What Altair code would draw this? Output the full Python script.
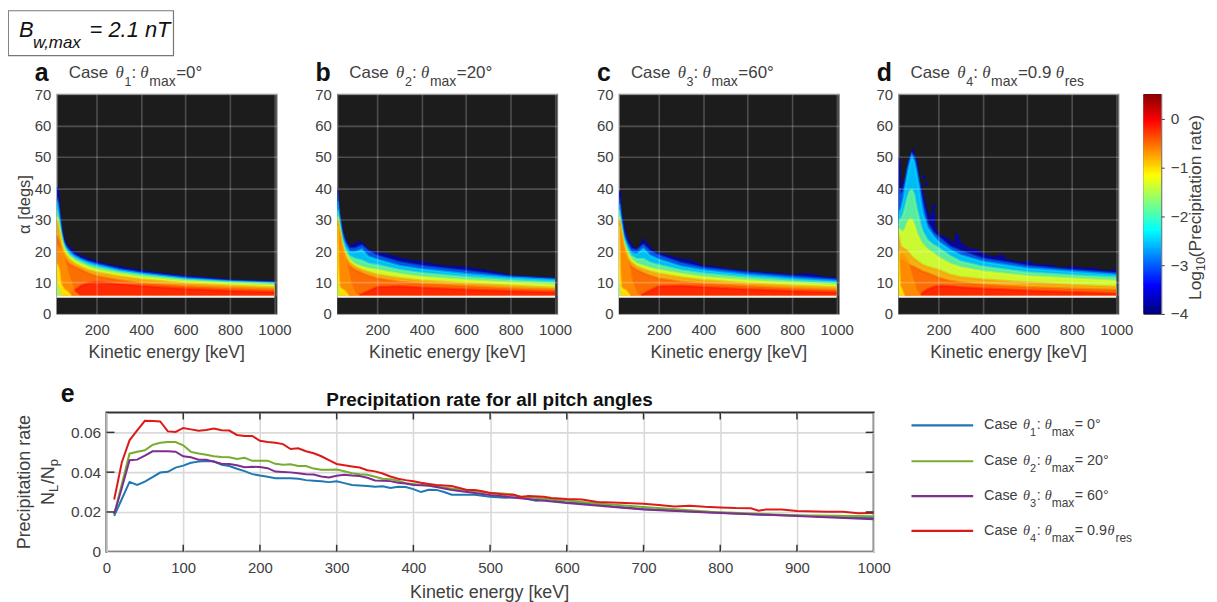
import altair as alt
import pandas as pd

# ---------- colour map ----------
JET = ["#00007f","#0000ff","#007fff","#00ffff","#7fff7f","#ffff00","#ff7f00","#ff0000","#7f0000"]
JET_SCALE = alt.Scale(domain=[-4, 0.5], range=JET, interpolate="rgb")
LEVELS = {"blue": -3.7, "azure": -2.95, "cyan": -2.4, "green": -1.75, "yellow": -1.2,
          "orange": -0.72, "orangered": -0.42, "red": -0.12}

# ---------- heat-map contours (alpha of each level's upper edge) ----------
K = [20,25,30,40,50,60,75,100,130,160,200,300,400,600,800,1000]

A_TOP_E = [20,28,32,38,45,53,65,80,98,120,150,200,250,300,350,400,500,600,700,770,800,900,1000]
A_TOP   = [40,40,33,30,26,23.5,22,21,20,18.8,17.8,16.7,15.7,15,14.4,13.8,12.8,12,11.5,11,10.8,10.5,10.3]
A_AZURE = [37,36,33,27,23.3,21.8,20.3,18.8,17.6,16.8,16,14.3,13.2,11.6,10.6,10]
A_CYAN  = [36,34,31,26,22.7,21.2,19.7,18.3,17.2,16.4,15.5,13.9,12.8,11.2,10.3,9.8]
A_GREEN = [33,31,29,25,22,20.5,19,17.6,16.6,15.7,14.9,13.4,12.4,10.9,10.1,9.6]
A_YELLOW= [31,30,28,24,21.2,19.8,18.4,17,15.9,15,14.1,12.8,11.8,10.4,9.7,9.1]
A_ORANGE= [30,28.5,26.5,22.5,20,18.8,17.4,16,14.9,14,13.2,11.9,11,9.7,9,8.4]
A_ORED  = [25,24,23,20.5,18.5,17.3,16,15,14,13,12,10.7,9.8,8.8,8.2,7.7]
A_RED   = [5.8,5.8,5.8,5.8,5.8,5.8,5.8,7.5,9,9.8,10.2,9.5,8.9,8,7.4,7]
A_W_O_E = [20,30,40,50,70,100,120]; A_W_O = [22,21,20.5,19,13,7,5.8]
A_W_Y_E = [20,30,38,50,70,85];      A_W_Y = [16,14,9.5,8,6.8,5.8]
A_W_G_E = [20,25,30,40];            A_W_G = [10,8.5,7.5,5.8]

B_TOP_E = [20,28,35,50,75,90,120,140,165,200,250,300,350,400,450,500,600,700,800,900,1000]
B_TOP   = [40,32,30,24.5,21.5,22,23,22,20.2,19.5,18.8,17.7,17,16.6,15.8,15.2,14.8,13.7,12.2,11.7,11.4]
B_AZURE = [38,34,31,26.5,24,22.5,20.8,20.8,21.8,20,18.5,16.5,15.3,13.7,11.9,11.1]
B_CYAN  = [36,32,30,25.5,23,21.3,19.7,19.7,20.5,18.2,17.3,15.3,14.2,12.7,11.5,10.8]
B_GREEN = [33,30,28,24,21.5,20,18.4,17.5,17,16,15.5,14,13,11.8,10.8,10]
B_YELLOW= [31,29,27,23,20.5,19,17.3,15.8,15,14.5,14,12.7,11.8,10.8,10,9.3]
B_ORANGE= [30,28,26,22,19.5,18,16.4,15,14,13.3,12.5,11.4,10.6,9.7,9,8.3]
B_ORED  = [27,26,24,20.8,18,16.8,15.2,14,13,12.2,11.3,10.2,9.6,8.8,8.1,7.6]
B_RED   = [5.8,5.8,5.8,5.8,5.8,5.8,5.8,5.8,6.3,7.3,8.6,8.8,8.4,7.8,7.3,6.9]
B_W_O_E = [20,30,40,60,80,100,120]; B_W_O = [30,26,22,17,10,6.5,5.8]
B_W_Y_E = [20,24,28,35,50,70];      B_W_Y = [28,15,9,8,7.5,5.8]
B_W_G_E = [20,22,25];               B_W_G = [10,9,5.8]

C_TOP_E = [20,25,28,35,45,55,65,77,90,107,120,130,140,152,175,200,280,340,400,450,503,600,700,800,880,940,1000]
C_TOP   = [39,39,33,31,27,24.7,23,22,21,20.3,22.5,23.7,22.5,22,20,19.3,17.7,17,15.2,15,14.2,13.5,13,12.4,12.7,11.8,11.4]
C_AZURE = [37,34,31,26.5,24,22.5,20.7,20.2,22,20,18.6,16.2,14.7,13.1,12,11]
C_CYAN  = [35,32,29.5,25,23,21.3,19.5,19,20.8,18.6,17.3,15.1,13.9,12.4,11.3,10.4]
C_GREEN = [33,30,28,24,22,20.3,18.5,17.5,17.5,16.3,15.5,13.9,12.9,11.6,10.6,9.8]
C_YELLOW= [31,29,27,23,20.8,19.2,17.5,16,15.3,14.6,14,12.8,11.8,10.7,9.9,9.2]
C_ORANGE= [30,28,26,22,19.7,18,16.5,15.1,14.2,13.5,12.8,11.6,10.7,9.7,9,8.4]
C_ORED  = [27,26,24,20.8,18,16.8,15.2,14,13,12.2,11.3,10.2,9.6,8.8,8.1,7.6]
C_RED   = [5.8,5.8,5.8,5.8,5.8,5.8,5.8,5.8,6.3,7.5,8.8,9,8.6,7.9,7.3,6.9]
C_W_O_E = [20,30,40,60,80,100,120]; C_W_O = [30,26,22,17,10,6.5,5.8]
C_W_Y_E = [20,24,28,35,50,70];      C_W_Y = [28,15,9,8,7.5,5.8]
C_W_G_E = [20,22,25];               C_W_G = [10,9,5.8]

KD = [20,25,30,40,50,60,70,80,90,100,110,120,130,150,175,200,250,300,400,600,800,1000]
D_TOP_E = [20,23,27,30,35,40,50,60,70,80,85,90,100,110,115,120,130,140,150,160,170,175,185,200,225,250,270,280,300,350,370,400,450,480,500,550,600,650,700,750,800,850,900,950,1000]
D_TOP   = [30,50,47,36,38,42,41,47,50,51,52.5,50.5,49,44,39,41.5,38,35,32,31.5,30,34.5,27,25,24.5,23.5,22,25,22.5,20,20.5,19,18,18.5,17.5,16.5,16.5,15.5,15.5,14.5,15,14.5,14.5,13.5,14]
D_AZURE = [33,40,38,39,42,46,49,51,50,47,43,39,35,29,26,24.5,21.5,20,17.6,15.3,14,13]
D_CYAN  = [30,33,33,36,40,44,47.5,50,48.5,45,41,36,32,27.5,25,23,20.5,18.7,16.6,14.5,13.4,12.4]
D_GREEN = [28,30,30,31.5,34,37,39,39.5,38,34,31,28,26,23.5,22,21,18.5,16.7,15,13.2,12.3,11.6]
D_YELLOW= [27,27,26.5,26,27,29,30,30,28.5,26,24.5,23,22,20.5,19.3,18,16,14.8,13.5,12,11.3,10.6]
D_ORANGE= [25,23,21.5,21,20.5,20,19,18.2,17.5,17,16.5,16,15.5,15,14.5,14,12.5,11.7,11,10,9.2,8.7]
D_ORED  = [19,18,17,17,16.5,16,15.5,15.2,15,14.5,14.2,13.8,13.5,13,12.3,11.5,10.5,10,9.3,8.5,8,7.6]
D_RED   = [5.8,5.8,5.8,5.8,5.8,5.8,5.8,5.8,5.8,5.8,5.8,6.2,6.8,7.8,8.5,9,8.8,8.5,8.1,7.5,7,6.5]
D_W_O_E = [20,30,40,60,80,100,120]; D_W_O = [19,19,19,17,12,7.5,5.8]
D_W_Y_E = [20,23,26,35,45];         D_W_Y = [20,14,9,7.5,5.8]
D_SPECK_E = [140,130,175,175,280,350,480,600]
D_SPECK_A = [41,43,34,31,24.5,20,18,16]

# ---------- line data ----------
E1 = [10,20,30,40,50,60,70,80,90,100,110,120,130,140,150,160,170,180,190,200,210,220,230,240,250,260,270,280,290,300,310,320,330,340,350,360,370,380,390,400,410,420,430,440,450,460,480,500,520,540,560,580,600,640,660,700,750,800,850,900,950,1000]
L1 = [.018,.0265,.0351,.0336,.0352,.0375,.0398,.0402,.0423,.0433,.0447,.0453,.0456,.0455,.0437,.0431,.0417,.0405,.039,.0383,.0377,.037,.037,.037,.0367,.036,.0357,.0354,.035,.0354,.0345,.0336,.0333,.033,.0327,.0329,.032,.0327,.0325,.0315,.03,.0312,.0311,.03,.0287,.0287,.0287,.0277,.0272,.0273,.0256,.0262,.0247,.024,.0228,.0215,.0205,.0196,.0187,.0182,.0175,.017]
E2 = [10,20,30,40,50,60,70,80,90,100,110,120,130,140,150,160,170,180,190,200,210,220,230,240,250,260,270,280,290,300,310,320,330,340,350,360,370,380,390,400,450,470,500,520,540,600,640,700,800,900,1000]
L2 = [.0187,.034,.0493,.0503,.051,.0537,.0548,.0551,.0551,.0535,.0502,.0494,.0488,.048,.0476,.0475,.0466,.0472,.0457,.0457,.0458,.0442,.0437,.044,.0431,.0431,.0418,.0412,.0412,.0413,.0405,.0395,.039,.0387,.0377,.0367,.0365,.0357,.0345,.034,.0318,.0308,.0296,.0292,.0278,.0258,.0243,.0225,.0198,.0183,.0178]
E3 = [10,20,30,40,50,60,70,80,90,100,110,120,130,140,150,160,170,180,190,200,210,220,230,240,250,260,270,280,290,300,310,320,330,340,350,360,370,380,390,400,420,450,500,600,700,800,900,1000]
L3 = [.019,.032,.046,.0463,.0483,.0505,.0505,.0505,.0503,.048,.0475,.0463,.0463,.0452,.0442,.0441,.0435,.0425,.0427,.0426,.042,.0403,.0401,.0399,.0395,.039,.0388,.0378,.0373,.0382,.0387,.0383,.0381,.0372,.0358,.0357,.0355,.0347,.0343,.0336,.0333,.031,.0285,.0245,.0212,.0195,.018,.0163]
E4 = [10,20,30,40,50,60,70,80,90,100,110,120,130,140,150,160,170,180,190,200,210,220,230,240,250,260,270,280,290,300,310,320,330,340,350,360,370,380,390,400,410,420,430,450,470,480,490,500,510,520,530,540,550,570,580,600,620,640,660,700,720,740,760,780,800,820,840,850,860,880,900,940,960,980,1000]
L4 = [.0263,.045,.056,.061,.0658,.0657,.0655,.0605,.0602,.0622,.0615,.0608,.0612,.0619,.0611,.0609,.0587,.0582,.0582,.0558,.0552,.0548,.0541,.0516,.052,.0505,.0495,.048,.046,.0441,.0435,.0429,.0423,.041,.0404,.0393,.0378,.0367,.036,.0354,.0347,.0341,.0335,.033,.0311,.0311,.0304,.0295,.0292,.0286,.0288,.0275,.028,.0277,.027,.0265,.0263,.025,.0247,.0241,.0235,.0228,.0231,.0226,.0223,.022,.0219,.0206,.0213,.0212,.0205,.0201,.0201,.0193,.0195]
LINE_COLORS = ["#1f77b4", "#77ac30", "#7e2f8e", "#dd1a1a"]

# ---------- axis values / colours ----------
HX = [200,400,600,800,1000]
HY = [0,10,20,30,40,50,60,70]
EX = [0,100,200,300,400,500,600,700,800,900,1000]
EY = [0,0.02,0.04,0.06]
CB_VALUES = [round(-4 + i*0.05, 2) for i in range(90)]
CB_TICKS = [-4,-3,-2,-1,0]
TXT = "#404040"
SANS = "Liberation Sans"
SERIF = "Liberation Serif"
EMPTY = alt.Data(values=[{}])
NOVIEW = alt.ViewBackground(stroke=None)

HX_SCALE = alt.Scale(domain=[20, 1010], nice=False, zero=False)
HY_SCALE = alt.Scale(domain=[0, 70], nice=False)
EX_SCALE = alt.Scale(domain=[0, 1000], nice=False)
EY_SCALE = alt.Scale(domain=[0, 0.07], nice=False)


def txt(s, x, y, size, font=SANS, color=TXT, **kw):
    return alt.Chart(EMPTY).mark_text(text=s, font=font, fontSize=size, color=color, align=kw.pop("align", "left"),
                                      baseline="alphabetic", **kw).encode(x=alt.value(x), y=alt.value(y))


def spacer(w, h=5):
    return alt.Chart(EMPTY).mark_point(opacity=0).encode(
        x=alt.value(2), y=alt.value(2), size=alt.value(1)).properties(width=w, height=h, view=NOVIEW)


HX_AXIS = alt.Axis(values=HX, grid=True, gridColor="#ffffff", gridOpacity=0.22, gridWidth=1.6, tickSize=0,
                   zindex=1, domain=False, labelFontSize=15, labelColor=TXT, labelFont=SANS, labelPadding=9,
                   labelOverlap=False, labelFlush=False, format="d", title=None)
HY_AXIS = alt.Axis(values=HY, grid=True, gridColor="#ffffff", gridOpacity=0.22, gridWidth=1.6, tickSize=0,
                   zindex=1, domain=False, labelFontSize=15, labelColor=TXT, labelFont=SANS, labelPadding=6,
                   labelOverlap=False, labelFlush=False, format="d", title=None)


def heat_band(level, es, tops):
    df = pd.DataFrame({"E": es, "top": tops, "level": LEVELS[level], "base": 5.8})
    return alt.Chart(df).mark_area(interpolate="linear", clip=True,
                                   line=alt.OverlayMarkDef(strokeWidth=2.5, opacity=0.45, clip=True)).encode(
        x=alt.X("E:Q", scale=HX_SCALE, axis=HX_AXIS),
        y=alt.Y("top:Q", scale=HY_SCALE, axis=HY_AXIS),
        y2="base:Q",
        color=alt.Color("level:Q", scale=JET_SCALE, legend=None),
    )


def title_pieces(letter, sub, tail, res=False):
    p = [txt(letter, -22, -13, 25, fontWeight="bold", color="#111111"),
         txt("Case", 12, -16, 17), txt("θ", 59, -16, 17, font=SERIF, fontStyle="italic"),
         txt(sub, 68, -8, 12.5), txt(":", 75, -16, 17),
         txt("θ", 84, -16, 17, font=SERIF, fontStyle="italic"), txt("max", 93, -8, 14),
         txt(tail, 120, -16, 17)]
    if res:
        p += [txt("θ", 158, -16, 17, font=SERIF, fontStyle="italic"), txt("res", 167, -8, 14)]
    return p


def heat_panel(k, top_e, top, az, cy, gr, ye, ora, ore, red, wedges, letter, sub, tail, w=221, res=False, extra=None, ytitle=False):
    layers = [heat_band("blue", top_e, top), heat_band("azure", k, az), heat_band("cyan", k, cy),
              heat_band("green", k, gr), heat_band("yellow", k, ye), heat_band("orange", k, ora),
              heat_band("orangered", k, ore), heat_band("red", k, red)]
    layers += [heat_band(lv, e, a) for lv, e, a in wedges]
    if extra is not None:
        layers.append(extra)
    mask = pd.DataFrame({"E": [15, 1020], "top": [5.6, 5.6], "base": [0, 0]})
    layers.append(alt.Chart(mask).mark_area(color="#1c1c1c", clip=True).encode(
        x=alt.X("E:Q", scale=HX_SCALE, axis=HX_AXIS), y=alt.Y("top:Q", scale=HY_SCALE, axis=HY_AXIS), y2="base:Q"))
    rule = pd.DataFrame({"E": [20], "b": [1000], "top": [5.5]})
    layers.append(alt.Chart(rule).mark_rule(color="#fff4ec", strokeWidth=2).encode(
        x=alt.X("E:Q", scale=HX_SCALE, axis=HX_AXIS), x2="b:Q", y=alt.Y("top:Q", scale=HY_SCALE, axis=HY_AXIS)))
    layers.append(txt("Kinetic energy [keV]", w/2, 265, 17.7, align="center"))
    layers += title_pieces(letter, sub, tail, res)
    if ytitle:
        layers.append(txt("α [degs]", -27, 111, 16.5, angle=270, align="center"))
    return alt.layer(*layers).properties(
        width=w, height=221,
        view=alt.ViewBackground(fill="#1c1c1c", stroke="#7a7a7a", strokeWidth=1.2))


spk = pd.DataFrame({"E": D_SPECK_E, "E2": [e+10 for e in D_SPECK_E], "top": D_SPECK_A, "top2": [a+1 for a in D_SPECK_A], "level": -3.6})
speck = alt.Chart(spk).mark_rect().encode(x=alt.X("E:Q", scale=HX_SCALE, axis=HX_AXIS), x2="E2:Q",
                                          y=alt.Y("top:Q", scale=HY_SCALE, axis=HY_AXIS), y2="top2:Q",
                                          color=alt.Color("level:Q", scale=JET_SCALE, legend=None))

pa = heat_panel(K, A_TOP_E, A_TOP, A_AZURE, A_CYAN, A_GREEN, A_YELLOW, A_ORANGE, A_ORED, A_RED,
                [("orange", A_W_O_E, A_W_O), ("yellow", A_W_Y_E, A_W_Y), ("green", A_W_G_E, A_W_G)],
                "a", "1", "=0°", ytitle=True)
pb = heat_panel(K, B_TOP_E, B_TOP, B_AZURE, B_CYAN, B_GREEN, B_YELLOW, B_ORANGE, B_ORED, B_RED,
                [("orange", B_W_O_E, B_W_O), ("yellow", B_W_Y_E, B_W_Y), ("green", B_W_G_E, B_W_G)],
                "b", "2", "=20°")
pc = heat_panel(K, C_TOP_E, C_TOP, C_AZURE, C_CYAN, C_GREEN, C_YELLOW, C_ORANGE, C_ORED, C_RED,
                [("orange", C_W_O_E, C_W_O), ("yellow", C_W_Y_E, C_W_Y), ("green", C_W_G_E, C_W_G)],
                "c", "3", "=60°")
pd_ = heat_panel(KD, D_TOP_E, D_TOP, D_AZURE, D_CYAN, D_GREEN, D_YELLOW, D_ORANGE, D_ORED, D_RED,
                 [("orange", D_W_O_E, D_W_O), ("yellow", D_W_Y_E, D_W_Y)],
                 "d", "4", "=0.9", res=True, extra=speck)

# ---------- colour bar ----------
cb_df = pd.DataFrame({"v": CB_VALUES, "v2": [v + 0.08 for v in CB_VALUES]})
colorbar = alt.layer(
    alt.Chart(cb_df).mark_rect(clip=True).encode(
        y=alt.Y("v:Q", scale=alt.Scale(domain=[-4, 0.5], nice=False), title=None,
                axis=alt.Axis(orient="right", values=CB_TICKS, tickSize=3, tickColor="#404040", domain=False, labelFontSize=15.5,
                              labelColor=TXT, labelFont=SANS, labelPadding=6, labelOverlap=False, labelFlush=False, format="d", grid=False)),
        y2="v2:Q",
        color=alt.Color("v:Q", scale=JET_SCALE, legend=None)),
    txt("Log", 58, 221-14, 17.5, angle=270),
    txt("10", 62, 221-43, 13, angle=270),
    txt("(Precipitation rate)", 58, 221-57, 17.5, angle=270),
).properties(width=18, height=221, view=alt.ViewBackground(stroke="#555555"))

row1 = alt.hconcat(spacer(24), pa, spacer(11), pb, spacer(12), pc, spacer(10), pd_, colorbar).properties(bounds="flush", spacing=25)

# ---------- header box ----------
header = alt.layer(
    txt("B", 11, 27, 22, fontStyle="italic", color="#111111"),
    txt("w,max", 25, 37.5, 17, fontStyle="italic", color="#111111"),
    txt("= 2.1 nT", 82, 27, 22, fontStyle="italic", color="#111111"),
).properties(width=166, height=45, view=alt.ViewBackground(fill="#ffffff", stroke="#777777", strokeWidth=1.2))

# ---------- line panel ----------
XE_AXIS = alt.Axis(values=EX, grid=True, gridColor="#d9d9d9", gridWidth=1.6, tickSize=0, domain=False, labelFontSize=15,
                   labelColor=TXT, labelFont=SANS, labelPadding=9, labelOverlap=False, labelFlush=False, format="d", title=None)
YE_AXIS = alt.Axis(values=EY, grid=True, gridColor="#d9d9d9", gridWidth=1.6, tickSize=0, domain=False, labelFontSize=15.5,
                   labelColor=TXT, labelFont=SANS, labelPadding=6, labelOverlap=False, labelFlush=False, title=None,
                   labelExpr="datum.value==0?'0':format(datum.value,'.2f')")
XE = alt.X("E:Q", scale=EX_SCALE, axis=XE_AXIS)
YE = alt.Y("r:Q", scale=EY_SCALE, axis=YE_AXIS)


def line(es, vs, color):
    return alt.Chart(pd.DataFrame({"E": es, "r": vs})).mark_line(color=color, strokeWidth=2).encode(x=XE, y=YE)


tx = pd.DataFrame({"E": EX[1:-1]})
ty = pd.DataFrame({"r": EY[1:]})
TICK = dict(color="#333333", strokeWidth=1.5)
e_layers = [line(E1, L1, LINE_COLORS[0]), line(E2, L2, LINE_COLORS[1]), line(E3, L3, LINE_COLORS[2]), line(E4, L4, LINE_COLORS[3]),
            alt.Chart(tx).mark_rule(**TICK).encode(x=XE, y=alt.value(133), y2=alt.value(140)),
            alt.Chart(tx).mark_rule(**TICK).encode(x=XE, y=alt.value(0), y2=alt.value(7)),
            alt.Chart(ty).mark_rule(**TICK).encode(y=YE, x=alt.value(0), x2=alt.value(8)),
            alt.Chart(ty).mark_rule(**TICK).encode(y=YE, x=alt.value(763), x2=alt.value(771)),
            txt("e", -46, -11, 25, fontWeight="bold", color="#111111"),
            txt("Precipitation rate for all pitch angles", 385, -6, 19, fontWeight="bold", color="#111111", align="center"),
            txt("Kinetic energy [keV]", 385, 186, 18, align="center"),
            txt("Precipitation rate", -77, 70, 18, angle=270, align="center"),
            txt("N", -53, 93, 18, angle=270), txt("L", -49, 80, 13, angle=270),
            txt("/N", -53, 72, 18, angle=270), txt("p", -49, 54, 13, angle=270)]
pe = alt.layer(*e_layers).properties(width=771, height=140, view=alt.ViewBackground(fill="#ffffff", stroke="#333333", strokeWidth=2))

# ---------- legend ----------
LEG_Y = [13, 49, 84, 119]
LEG_SUB = ["1", "2", "3", "4"]
LEG_TAIL = ["= 0°", "= 20°", "= 60°", "= 0.9"]
leg_layers = []
for i, ly in enumerate(LEG_Y):
    leg_layers += [
        alt.Chart(EMPTY).mark_rule(color=LINE_COLORS[i], strokeWidth=2.2).encode(x=alt.value(13), x2=alt.value(75), y=alt.value(ly)),
        txt("Case", 86, ly + 4, 14.4), txt("θ", 125, ly + 4, 14.4, font=SERIF, fontStyle="italic"),
        txt(LEG_SUB[i], 132, ly + 11, 11), txt(":", 139, ly + 4, 14.4),
        txt("θ", 147, ly + 4, 14.4, font=SERIF, fontStyle="italic"), txt("max", 154, ly + 11, 12),
        txt(LEG_TAIL[i], 177, ly + 4, 14.4)]
leg_layers += [txt("θ", 210, LEG_Y[3] + 4, 14.4, font=SERIF, fontStyle="italic"), txt("res", 218, LEG_Y[3] + 11, 12)]
legend = alt.layer(*leg_layers).properties(width=250, height=140, view=NOVIEW)

row2 = alt.hconcat(spacer(74), pe, legend).properties(bounds="flush", spacing=25)

chart = alt.vconcat(header, row1, spacer(10, 10), row2).properties(
    spacing=4, padding={"left": -1, "top": 0, "right": 0, "bottom": 0}
).resolve_scale(color="shared").configure_view(continuousWidth=200)

chart.save("out.html", embed_options={"renderer": "svg", "actions": False})
